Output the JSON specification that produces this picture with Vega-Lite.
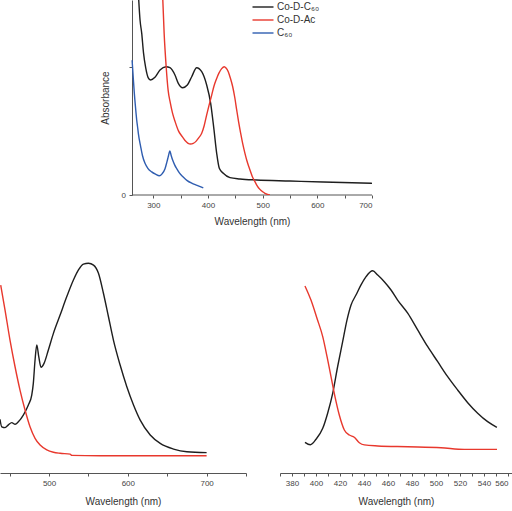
{
  "$schema": "https://vega.github.io/schema/vega-lite/v6.json",
  "padding": 0,
  "background": "white",
  "spacing": 18,
  "config": {
    "view": {"stroke": null},
    "font": "Liberation Sans",
    "axis": {
      "grid": false,
      "labelFont": "Liberation Sans",
      "labelFontSize": 8,
      "labelColor": "#444444",
      "labelPadding": 3.5,
      "titleFont": "Liberation Sans",
      "titleFontSize": 10,
      "titleFontWeight": "normal",
      "titleColor": "#333333",
      "titlePadding": 7,
      "domainColor": "#555555",
      "tickColor": "#555555",
      "tickSize": 3
    }
  },
  "datasets": {
    "absorption": [
      {"series": "Co-D-C₆₀", "wavelength": 272.5, "value": 1.58},
      {"series": "Co-D-C₆₀", "wavelength": 275.7, "value": 1.364},
      {"series": "Co-D-C₆₀", "wavelength": 278.8, "value": 1.26},
      {"series": "Co-D-C₆₀", "wavelength": 282.0, "value": 1.11},
      {"series": "Co-D-C₆₀", "wavelength": 286.1, "value": 0.99},
      {"series": "Co-D-C₆₀", "wavelength": 290.5, "value": 0.915},
      {"series": "Co-D-C₆₀", "wavelength": 295.0, "value": 0.896},
      {"series": "Co-D-C₆₀", "wavelength": 303.0, "value": 0.917},
      {"series": "Co-D-C₆₀", "wavelength": 312.2, "value": 0.974},
      {"series": "Co-D-C₆₀", "wavelength": 323.2, "value": 1.0},
      {"series": "Co-D-C₆₀", "wavelength": 330.5, "value": 0.992},
      {"series": "Co-D-C₆₀", "wavelength": 339.6, "value": 0.935},
      {"series": "Co-D-C₆₀", "wavelength": 345.7, "value": 0.87},
      {"series": "Co-D-C₆₀", "wavelength": 353.7, "value": 0.836},
      {"series": "Co-D-C₆₀", "wavelength": 362.2, "value": 0.857},
      {"series": "Co-D-C₆₀", "wavelength": 370.2, "value": 0.922},
      {"series": "Co-D-C₆₀", "wavelength": 379.3, "value": 0.992},
      {"series": "Co-D-C₆₀", "wavelength": 388.5, "value": 0.961},
      {"series": "Co-D-C₆₀", "wavelength": 397.6, "value": 0.857},
      {"series": "Co-D-C₆₀", "wavelength": 404.9, "value": 0.715},
      {"series": "Co-D-C₆₀", "wavelength": 411.0, "value": 0.507},
      {"series": "Co-D-C₆₀", "wavelength": 415.9, "value": 0.325},
      {"series": "Co-D-C₆₀", "wavelength": 420.7, "value": 0.208},
      {"series": "Co-D-C₆₀", "wavelength": 428.0, "value": 0.169},
      {"series": "Co-D-C₆₀", "wavelength": 440.2, "value": 0.135},
      {"series": "Co-D-C₆₀", "wavelength": 458.5, "value": 0.125},
      {"series": "Co-D-C₆₀", "wavelength": 489.0, "value": 0.117},
      {"series": "Co-D-C₆₀", "wavelength": 550.0, "value": 0.109},
      {"series": "Co-D-C₆₀", "wavelength": 610.8, "value": 0.101},
      {"series": "Co-D-C₆₀", "wavelength": 700.0, "value": 0.091},
      {"series": "Co-D-Ac", "wavelength": 316.8, "value": 1.58},
      {"series": "Co-D-Ac", "wavelength": 319.8, "value": 1.26},
      {"series": "Co-D-Ac", "wavelength": 323.5, "value": 1.0},
      {"series": "Co-D-Ac", "wavelength": 327.0, "value": 0.82},
      {"series": "Co-D-Ac", "wavelength": 331.0, "value": 0.72},
      {"series": "Co-D-Ac", "wavelength": 335.0, "value": 0.64},
      {"series": "Co-D-Ac", "wavelength": 340.0, "value": 0.57},
      {"series": "Co-D-Ac", "wavelength": 346.0, "value": 0.5},
      {"series": "Co-D-Ac", "wavelength": 352.0, "value": 0.46},
      {"series": "Co-D-Ac", "wavelength": 358.0, "value": 0.425},
      {"series": "Co-D-Ac", "wavelength": 363.0, "value": 0.405},
      {"series": "Co-D-Ac", "wavelength": 368.0, "value": 0.397},
      {"series": "Co-D-Ac", "wavelength": 373.0, "value": 0.402},
      {"series": "Co-D-Ac", "wavelength": 378.0, "value": 0.418},
      {"series": "Co-D-Ac", "wavelength": 383.0, "value": 0.445},
      {"series": "Co-D-Ac", "wavelength": 388.5, "value": 0.481},
      {"series": "Co-D-Ac", "wavelength": 393.0, "value": 0.54},
      {"series": "Co-D-Ac", "wavelength": 397.6, "value": 0.624},
      {"series": "Co-D-Ac", "wavelength": 402.0, "value": 0.7},
      {"series": "Co-D-Ac", "wavelength": 406.8, "value": 0.779},
      {"series": "Co-D-Ac", "wavelength": 411.0, "value": 0.85},
      {"series": "Co-D-Ac", "wavelength": 415.9, "value": 0.909},
      {"series": "Co-D-Ac", "wavelength": 420.0, "value": 0.95},
      {"series": "Co-D-Ac", "wavelength": 425.0, "value": 0.985},
      {"series": "Co-D-Ac", "wavelength": 429.8, "value": 1.0},
      {"series": "Co-D-Ac", "wavelength": 433.0, "value": 0.99},
      {"series": "Co-D-Ac", "wavelength": 437.1, "value": 0.961},
      {"series": "Co-D-Ac", "wavelength": 441.0, "value": 0.91},
      {"series": "Co-D-Ac", "wavelength": 445.2, "value": 0.844},
      {"series": "Co-D-Ac", "wavelength": 449.0, "value": 0.76},
      {"series": "Co-D-Ac", "wavelength": 452.5, "value": 0.663},
      {"series": "Co-D-Ac", "wavelength": 456.0, "value": 0.57},
      {"series": "Co-D-Ac", "wavelength": 459.8, "value": 0.481},
      {"series": "Co-D-Ac", "wavelength": 463.5, "value": 0.4},
      {"series": "Co-D-Ac", "wavelength": 467.6, "value": 0.325},
      {"series": "Co-D-Ac", "wavelength": 472.0, "value": 0.255},
      {"series": "Co-D-Ac", "wavelength": 476.8, "value": 0.195},
      {"series": "Co-D-Ac", "wavelength": 481.0, "value": 0.145},
      {"series": "Co-D-Ac", "wavelength": 485.9, "value": 0.104},
      {"series": "Co-D-Ac", "wavelength": 490.0, "value": 0.072},
      {"series": "Co-D-Ac", "wavelength": 495.0, "value": 0.044},
      {"series": "Co-D-Ac", "wavelength": 500.0, "value": 0.025},
      {"series": "Co-D-Ac", "wavelength": 504.2, "value": 0.013},
      {"series": "Co-D-Ac", "wavelength": 509.0, "value": 0.004},
      {"series": "Co-D-Ac", "wavelength": 513.3, "value": 0.0},
      {"series": "C₆₀", "wavelength": 261.2, "value": 1.05},
      {"series": "C₆₀", "wavelength": 263.5, "value": 0.9},
      {"series": "C₆₀", "wavelength": 265.3, "value": 0.79},
      {"series": "C₆₀", "wavelength": 267.5, "value": 0.68},
      {"series": "C₆₀", "wavelength": 269.6, "value": 0.585},
      {"series": "C₆₀", "wavelength": 271.5, "value": 0.52},
      {"series": "C₆₀", "wavelength": 272.6, "value": 0.48},
      {"series": "C₆₀", "wavelength": 276.9, "value": 0.376},
      {"series": "C₆₀", "wavelength": 280.0, "value": 0.31},
      {"series": "C₆₀", "wavelength": 284.8, "value": 0.247},
      {"series": "C₆₀", "wavelength": 290.0, "value": 0.208},
      {"series": "C₆₀", "wavelength": 297.0, "value": 0.18},
      {"series": "C₆₀", "wavelength": 304.0, "value": 0.162},
      {"series": "C₆₀", "wavelength": 311.0, "value": 0.15},
      {"series": "C₆₀", "wavelength": 316.0, "value": 0.165},
      {"series": "C₆₀", "wavelength": 321.4, "value": 0.205},
      {"series": "C₆₀", "wavelength": 325.0, "value": 0.26},
      {"series": "C₆₀", "wavelength": 327.4, "value": 0.3},
      {"series": "C₆₀", "wavelength": 330.3, "value": 0.343},
      {"series": "C₆₀", "wavelength": 332.5, "value": 0.31},
      {"series": "C₆₀", "wavelength": 335.5, "value": 0.27},
      {"series": "C₆₀", "wavelength": 339.0, "value": 0.235},
      {"series": "C₆₀", "wavelength": 342.8, "value": 0.205},
      {"series": "C₆₀", "wavelength": 348.0, "value": 0.17},
      {"series": "C₆₀", "wavelength": 354.8, "value": 0.14},
      {"series": "C₆₀", "wavelength": 362.0, "value": 0.112},
      {"series": "C₆₀", "wavelength": 370.2, "value": 0.092},
      {"series": "C₆₀", "wavelength": 380.0, "value": 0.075},
      {"series": "C₆₀", "wavelength": 391.4, "value": 0.055}
    ],
    "emissionLong": [
      {"series": "Co-D-C₆₀", "wavelength": 437.7, "value": 0.256},
      {"series": "Co-D-C₆₀", "wavelength": 439.9, "value": 0.22},
      {"series": "Co-D-C₆₀", "wavelength": 444.1, "value": 0.216},
      {"series": "Co-D-C₆₀", "wavelength": 448.3, "value": 0.229},
      {"series": "Co-D-C₆₀", "wavelength": 452.6, "value": 0.24},
      {"series": "Co-D-C₆₀", "wavelength": 456.9, "value": 0.232},
      {"series": "Co-D-C₆₀", "wavelength": 461.0, "value": 0.244},
      {"series": "Co-D-C₆₀", "wavelength": 467.3, "value": 0.276},
      {"series": "Co-D-C₆₀", "wavelength": 473.7, "value": 0.324},
      {"series": "Co-D-C₆₀", "wavelength": 478.0, "value": 0.371},
      {"series": "Co-D-C₆₀", "wavelength": 480.0, "value": 0.427},
      {"series": "Co-D-C₆₀", "wavelength": 482.2, "value": 0.538},
      {"series": "Co-D-C₆₀", "wavelength": 484.4, "value": 0.61},
      {"series": "Co-D-C₆₀", "wavelength": 486.9, "value": 0.554},
      {"series": "Co-D-C₆₀", "wavelength": 489.8, "value": 0.503},
      {"series": "Co-D-C₆₀", "wavelength": 493.6, "value": 0.522},
      {"series": "Co-D-C₆₀", "wavelength": 499.1, "value": 0.586},
      {"series": "Co-D-C₆₀", "wavelength": 505.5, "value": 0.665},
      {"series": "Co-D-C₆₀", "wavelength": 514.0, "value": 0.752},
      {"series": "Co-D-C₆₀", "wavelength": 522.5, "value": 0.84},
      {"series": "Co-D-C₆₀", "wavelength": 530.9, "value": 0.919},
      {"series": "Co-D-C₆₀", "wavelength": 537.3, "value": 0.967},
      {"series": "Co-D-C₆₀", "wavelength": 543.6, "value": 0.995},
      {"series": "Co-D-C₆₀", "wavelength": 550.0, "value": 0.999},
      {"series": "Co-D-C₆₀", "wavelength": 556.4, "value": 0.99},
      {"series": "Co-D-C₆₀", "wavelength": 562.7, "value": 0.951},
      {"series": "Co-D-C₆₀", "wavelength": 569.0, "value": 0.856},
      {"series": "Co-D-C₆₀", "wavelength": 575.4, "value": 0.744},
      {"series": "Co-D-C₆₀", "wavelength": 581.7, "value": 0.633},
      {"series": "Co-D-C₆₀", "wavelength": 590.2, "value": 0.514},
      {"series": "Co-D-C₆₀", "wavelength": 598.7, "value": 0.411},
      {"series": "Co-D-C₆₀", "wavelength": 607.2, "value": 0.324},
      {"series": "Co-D-C₆₀", "wavelength": 615.7, "value": 0.252},
      {"series": "Co-D-C₆₀", "wavelength": 628.4, "value": 0.181},
      {"series": "Co-D-C₆₀", "wavelength": 641.1, "value": 0.141},
      {"series": "Co-D-C₆₀", "wavelength": 658.0, "value": 0.114},
      {"series": "Co-D-C₆₀", "wavelength": 675.0, "value": 0.101},
      {"series": "Co-D-C₆₀", "wavelength": 700.0, "value": 0.097},
      {"series": "Co-D-Ac", "wavelength": 438.6, "value": 0.895},
      {"series": "Co-D-Ac", "wavelength": 444.1, "value": 0.776},
      {"series": "Co-D-Ac", "wavelength": 450.4, "value": 0.633},
      {"series": "Co-D-Ac", "wavelength": 456.8, "value": 0.506},
      {"series": "Co-D-Ac", "wavelength": 463.1, "value": 0.395},
      {"series": "Co-D-Ac", "wavelength": 469.5, "value": 0.3},
      {"series": "Co-D-Ac", "wavelength": 475.8, "value": 0.22},
      {"series": "Co-D-Ac", "wavelength": 482.2, "value": 0.165},
      {"series": "Co-D-Ac", "wavelength": 488.6, "value": 0.133},
      {"series": "Co-D-Ac", "wavelength": 497.1, "value": 0.11},
      {"series": "Co-D-Ac", "wavelength": 505.5, "value": 0.099},
      {"series": "Co-D-Ac", "wavelength": 514.0, "value": 0.094},
      {"series": "Co-D-Ac", "wavelength": 526.7, "value": 0.09},
      {"series": "Co-D-Ac", "wavelength": 528.8, "value": 0.084},
      {"series": "Co-D-Ac", "wavelength": 564.8, "value": 0.082},
      {"series": "Co-D-Ac", "wavelength": 700.0, "value": 0.082}
    ],
    "emissionShort": [
      {"series": "Co-D-C₆₀", "wavelength": 390.8, "value": 0.152},
      {"series": "Co-D-C₆₀", "wavelength": 395.3, "value": 0.14},
      {"series": "Co-D-C₆₀", "wavelength": 400.0, "value": 0.167},
      {"series": "Co-D-C₆₀", "wavelength": 405.6, "value": 0.221},
      {"series": "Co-D-C₆₀", "wavelength": 409.7, "value": 0.296},
      {"series": "Co-D-C₆₀", "wavelength": 413.9, "value": 0.394},
      {"series": "Co-D-C₆₀", "wavelength": 418.0, "value": 0.526},
      {"series": "Co-D-C₆₀", "wavelength": 422.2, "value": 0.65},
      {"series": "Co-D-C₆₀", "wavelength": 425.8, "value": 0.757},
      {"series": "Co-D-C₆₀", "wavelength": 429.2, "value": 0.832},
      {"series": "Co-D-C₆₀", "wavelength": 433.3, "value": 0.881},
      {"series": "Co-D-C₆₀", "wavelength": 437.5, "value": 0.931},
      {"series": "Co-D-C₆₀", "wavelength": 441.7, "value": 0.972},
      {"series": "Co-D-C₆₀", "wavelength": 447.2, "value": 1.001},
      {"series": "Co-D-C₆₀", "wavelength": 451.4, "value": 0.98},
      {"series": "Co-D-C₆₀", "wavelength": 456.9, "value": 0.947},
      {"series": "Co-D-C₆₀", "wavelength": 462.5, "value": 0.906},
      {"series": "Co-D-C₆₀", "wavelength": 468.0, "value": 0.856},
      {"series": "Co-D-C₆₀", "wavelength": 476.4, "value": 0.791},
      {"series": "Co-D-C₆₀", "wavelength": 484.7, "value": 0.708},
      {"series": "Co-D-C₆₀", "wavelength": 493.1, "value": 0.625},
      {"series": "Co-D-C₆₀", "wavelength": 501.4, "value": 0.551},
      {"series": "Co-D-C₆₀", "wavelength": 509.7, "value": 0.477},
      {"series": "Co-D-C₆₀", "wavelength": 518.0, "value": 0.411},
      {"series": "Co-D-C₆₀", "wavelength": 526.4, "value": 0.348},
      {"series": "Co-D-C₆₀", "wavelength": 534.7, "value": 0.296},
      {"series": "Co-D-C₆₀", "wavelength": 543.0, "value": 0.254},
      {"series": "Co-D-C₆₀", "wavelength": 550.7, "value": 0.226},
      {"series": "Co-D-Ac", "wavelength": 390.8, "value": 0.926},
      {"series": "Co-D-Ac", "wavelength": 395.8, "value": 0.856},
      {"series": "Co-D-Ac", "wavelength": 400.8, "value": 0.766},
      {"series": "Co-D-Ac", "wavelength": 405.6, "value": 0.675},
      {"series": "Co-D-Ac", "wavelength": 409.2, "value": 0.576},
      {"series": "Co-D-Ac", "wavelength": 412.5, "value": 0.477},
      {"series": "Co-D-Ac", "wavelength": 415.8, "value": 0.378},
      {"series": "Co-D-Ac", "wavelength": 419.4, "value": 0.287},
      {"series": "Co-D-Ac", "wavelength": 423.6, "value": 0.213},
      {"series": "Co-D-Ac", "wavelength": 427.8, "value": 0.188},
      {"series": "Co-D-Ac", "wavelength": 431.9, "value": 0.177},
      {"series": "Co-D-Ac", "wavelength": 436.1, "value": 0.15},
      {"series": "Co-D-Ac", "wavelength": 440.3, "value": 0.139},
      {"series": "Co-D-Ac", "wavelength": 451.4, "value": 0.134},
      {"series": "Co-D-Ac", "wavelength": 476.4, "value": 0.13},
      {"series": "Co-D-Ac", "wavelength": 504.2, "value": 0.125},
      {"series": "Co-D-Ac", "wavelength": 523.6, "value": 0.117},
      {"series": "Co-D-Ac", "wavelength": 550.8, "value": 0.117}
    ]
  },
  "resolve": {"scale": {"color": "independent"}},
  "vconcat": [
    {
      "width": 372,
      "height": 195,
      "layer": [
        {
          "data": {"values": [{}]},
          "mark": {"type": "rule", "color": "#555555", "strokeWidth": 1},
          "encoding": {
            "x": {"datum": 261, "type": "quantitative"},
            "x2": {"datum": 700},
            "y": {"datum": 0, "type": "quantitative"}
          }
        },
        {
          "data": {"name": "absorption"},
          "mark": {"type": "line", "strokeWidth": 1.4, "interpolate": "monotone", "clip": true},
          "encoding": {
            "x": {
              "field": "wavelength",
              "type": "quantitative",
              "scale": {"domain": [19.55, 700], "nice": false, "zero": false},
              "axis": {
                "values": [300, 350, 400, 450, 500, 550, 600, 650, 700],
                "labelExpr": "datum.value % 100 === 0 ? datum.label : ''",
                "domain": false,
                "title": "Wavelength (nm)",
                "titleX": 252
              }
            },
            "y": {
              "field": "value",
              "type": "quantitative",
              "scale": {"domain": [0, 1.52], "nice": false, "zero": true},
              "axis": {
                "values": [0, 1],
                "labelExpr": "datum.value === 0 ? '0' : ''",
                "offset": -132,
                "title": "Absorbance",
                "titlePadding": 11
              }
            },
            "color": {
              "field": "series",
              "type": "nominal",
              "sort": null,
              "scale": {
                "domain": ["Co-D-C₆₀", "Co-D-Ac", "C₆₀"],
                "range": ["#1e1e1e", "#e8382d", "#2f5db0"]
              },
              "legend": {
                "orient": "none",
                "legendX": 257,
                "legendY": 1,
                "title": null,
                "padding": 0,
                "symbolType": "M-2.1,0H2.1",
                "symbolSize": 100,
                "symbolStrokeWidth": 1.4,
                "labelFont": "Liberation Sans",
                "labelFontSize": 10,
                "labelColor": "#333333",
                "labelOffset": 8,
                "rowPadding": 2
              }
            }
          }
        }
      ]
    },
    {
      "spacing": 32,
      "hconcat": [
        {
          "width": 246,
          "height": 228,
          "data": {"name": "emissionLong"},
          "mark": {"type": "line", "strokeWidth": 1.4, "interpolate": "monotone", "clip": true},
          "encoding": {
            "x": {
              "field": "wavelength",
              "type": "quantitative",
              "scale": {"domain": [437.7, 750], "nice": false, "zero": false},
              "axis": {
                "values": [450, 500, 550, 600, 650, 700, 750],
                "labelExpr": "datum.value % 100 === 0 ? datum.label : ''",
                "title": "Wavelength (nm)",
                "titlePadding": 9
              }
            },
            "y": {
              "field": "value",
              "type": "quantitative",
              "scale": {"domain": [0, 1.0857], "nice": false},
              "axis": null
            },
            "color": {
              "field": "series",
              "type": "nominal",
              "scale": {"domain": ["Co-D-C₆₀", "Co-D-Ac"], "range": ["#1e1e1e", "#e8382d"]},
              "legend": null
            }
          }
        },
        {
          "width": 232,
          "height": 228,
          "data": {"name": "emissionShort"},
          "mark": {"type": "line", "strokeWidth": 1.4, "interpolate": "monotone", "clip": true},
          "encoding": {
            "x": {
              "field": "wavelength",
              "type": "quantitative",
              "scale": {"domain": [370, 563.3], "nice": false, "zero": false},
              "axis": {
                "values": [370, 380, 390, 400, 410, 420, 430, 440, 450, 460, 470, 480, 490, 500, 510, 520, 530, 540, 550, 560],
                "labelExpr": "datum.value % 20 === 0 ? datum.label : ''",
                "labelFlush": 6,
                "title": "Wavelength (nm)",
                "titlePadding": 9
              }
            },
            "y": {
              "field": "value",
              "type": "quantitative",
              "scale": {"domain": [0, 1.1287], "nice": false},
              "axis": null
            },
            "color": {
              "field": "series",
              "type": "nominal",
              "scale": {"domain": ["Co-D-C₆₀", "Co-D-Ac"], "range": ["#1e1e1e", "#e8382d"]},
              "legend": null
            }
          }
        }
      ]
    }
  ]
}
